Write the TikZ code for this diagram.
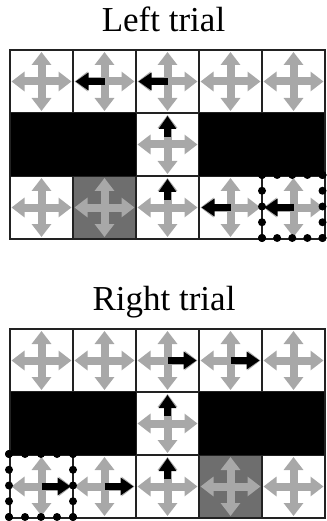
\documentclass[tikz,border=0pt]{standalone}
\usepackage{fontspec}
\setmainfont{Liberation Serif}
\usetikzlibrary{arrows.meta}
\definecolor{arrgray}{HTML}{A8A8A8}
\definecolor{cellgray}{HTML}{6E6E6E}
\definecolor{linegray}{HTML}{222222}
\tikzset{
  grayarr/.style={draw=arrgray, line width=8pt, -{Triangle[width=19pt,length=13pt]}},
  blackarr/.style={draw=black, line width=7pt, -{Triangle[width=17pt,length=13pt]}},
  gridline/.style={draw=linegray, line width=1.4pt},
  dotmark/.style={fill=black},
  titletext/.style={font=\fontsize{35}{40}\selectfont, anchor=base, inner sep=0pt},
}
\newcommand{\graycross}[3]{% col,row,y0
  \draw[grayarr] ({10+63*#1+31.5},{#3+63*#2+31.5}) -- ({10+63*#1+61.5},{#3+63*#2+31.5});
  \draw[grayarr] ({10+63*#1+31.5},{#3+63*#2+31.5}) -- ({10+63*#1+1.5},{#3+63*#2+31.5});
  \draw[grayarr] ({10+63*#1+31.5},{#3+63*#2+31.5}) -- ({10+63*#1+31.5},{#3+63*#2+2});
  \draw[grayarr] ({10+63*#1+31.5},{#3+63*#2+31.5}) -- ({10+63*#1+31.5},{#3+63*#2+61});
}
\newcommand{\barrleft}[3]{\draw[blackarr] ({10+63*#1+31.5},{#3+63*#2+31.5}) -- ({10+63*#1+2.5},{#3+63*#2+31.5});}
\newcommand{\barrright}[3]{\draw[blackarr] ({10+63*#1+31.5},{#3+63*#2+31.5}) -- ({10+63*#1+60.5},{#3+63*#2+31.5});}
\newcommand{\barrup}[3]{\draw[blackarr] ({10+63*#1+31.5},{#3+63*#2+24}) -- ({10+63*#1+31.5},{#3+63*#2+3});}
\newcommand{\gridbase}[2]{% y0, dark column
  \fill[white] (10,#1) rectangle (325,#1+189);
  \fill[cellgray] ({10+63*#2},{#1+126}) rectangle ({10+63*#2+63},{#1+189});
  \foreach \i in {1,2,3,4} \draw[gridline] ({10+63*\i},#1) -- ({10+63*\i},#1+189);
  \foreach \j in {1,2} \draw[gridline] (10,{#1+63*\j}) -- (325,{#1+63*\j});
  \fill[black] (10,#1+63) rectangle (136,#1+126);
  \fill[black] (199,#1+63) rectangle (325,#1+126);
  \draw[gridline] (10,#1) rectangle (325,#1+189);
  \foreach \i in {0,...,4} {\graycross{\i}{0}{#1}\graycross{\i}{2}{#1}}
  \graycross{2}{1}{#1}
}
\newcommand{\dotframe}[4]{% x1,y1,x2,y2
  \foreach \k in {0,...,4} {
    \fill[dotmark] ({#1+(#3-#1)*\k/4},#2) circle[radius=4pt];
    \fill[dotmark] ({#1+(#3-#1)*\k/4},#4) circle[radius=4pt];
    \fill[dotmark] (#1,{#2+(#4-#2)*\k/4}) circle[radius=4pt];
    \fill[dotmark] (#3,{#2+(#4-#2)*\k/4}) circle[radius=4pt];
  }
}
\begin{document}
\begin{tikzpicture}[x=1pt,y=-1pt]
\useasboundingbox (0,0) rectangle (326,521);
% Left trial
\node[titletext] (lefttitle) at (163.5,32) {Left trial};
\gridbase{50}{1}
\barrleft{1}{0}{50}
\barrleft{2}{0}{50}
\barrup{2}{1}{50}
\barrup{2}{2}{50}
\barrleft{3}{2}{50}
\barrleft{4}{2}{50}
\dotframe{262}{175}{322.5}{238}
% Right trial
\node[titletext] (righttitle) at (164,310) {Right trial};
\gridbase{329}{3}
\barrright{2}{0}{329}
\barrright{3}{0}{329}
\barrup{2}{1}{329}
\barrup{2}{2}{329}
\barrright{0}{2}{329}
\barrright{1}{2}{329}
\dotframe{9}{454}{73}{517}
\end{tikzpicture}
\end{document}
